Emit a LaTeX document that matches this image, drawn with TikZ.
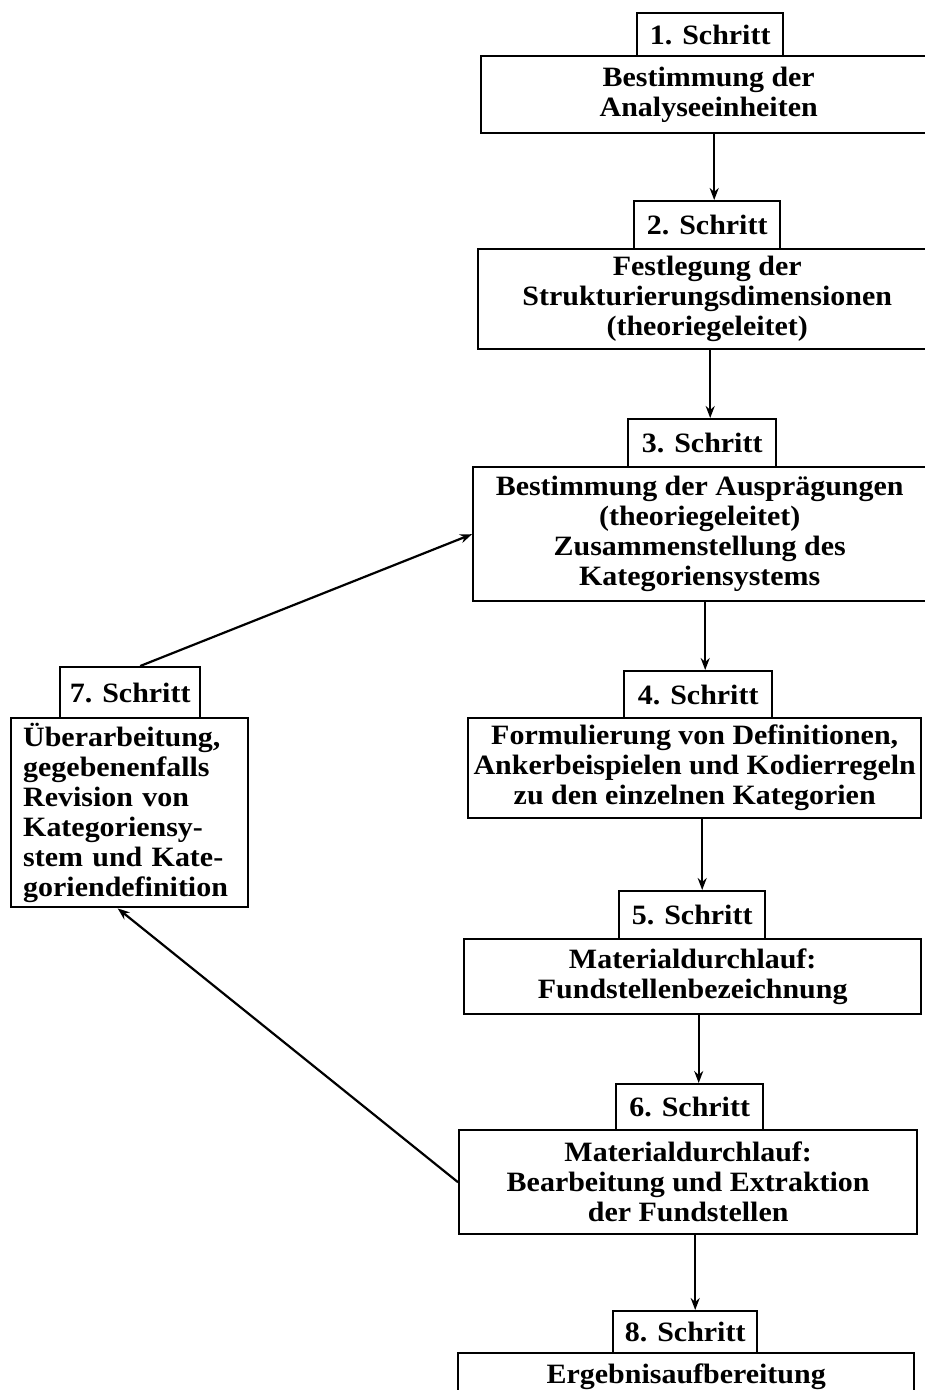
\documentclass[tikz,border=0pt]{standalone}
\usepackage{fontspec}
\setmainfont{Liberation Serif}[FakeStretch=1.07]
\usetikzlibrary{arrows.meta}
\begin{document}
\begin{tikzpicture}[x=1pt,y=-1pt,
  bx/.style={draw, line width=2.4pt, inner sep=0pt, anchor=north west, align=center,
    font=\bfseries\fontsize{28}{30}\selectfont, fill=white},
  arr/.style={line width=2.2pt, -{Stealth[length=12pt,width=9pt]}}]
\useasboundingbox (0,0) rectangle (925,1390);
\newcommand\mybox[6]{\node[bx, minimum width=#4-#2, minimum height=#5-#3] (#1) at (#2,#3) {#6};}
% step 1
\mybox{b1}{480}{55}{935}{132}{Bestimmung der\\Analyseeinheiten}
\mybox{l1}{636}{12}{782}{55}{1. Schritt}
% step 2
\mybox{b2}{477}{248}{935}{348}{Festlegung der\\Strukturierungsdimensionen\\(theoriegeleitet)}
\mybox{l2}{633}{200}{779}{248}{2. Schritt}
% step 3
\mybox{b3}{472}{466}{925}{600}{Bestimmung der Ausprägungen\\(theoriegeleitet)\\Zusammenstellung des\\Kategoriensystems}
\mybox{l3}{627}{418}{775}{466}{3. Schritt}
% step 4
\mybox{b4}{467}{717}{920}{817}{Formulierung von Definitionen,\\Ankerbeispielen und Kodierregeln\\zu den einzelnen Kategorien}
\mybox{l4}{623}{670}{771}{717}{4. Schritt}
% step 5
\mybox{b5}{463}{938}{920}{1013}{Materialdurchlauf:\\Fundstellenbezeichnung}
\mybox{l5}{618}{890}{764}{938}{5. Schritt}
% step 6
\mybox{b6}{458}{1129}{916}{1233}{Materialdurchlauf:\\Bearbeitung und Extraktion\\der Fundstellen}
\mybox{l6}{615}{1083}{762}{1129}{6. Schritt}
% step 8
\node[bx, minimum width=456, minimum height=70, anchor=north west, align=center] (b8) at (457,1352) {Ergebnisaufbereitung\\\phantom{X}};
\mybox{l8}{612}{1310}{756}{1352}{8. Schritt}
% step 7
\node[bx, align=left, text width=213pt, inner xsep=12pt, minimum height=189] (b7) at (10,717)
  {Überarbeitung,\\gegebenenfalls\\Revision von\\Kategoriensy-\\stem und Kate-\\goriendefinition};
\mybox{l7}{59}{666}{199}{717}{7. Schritt}
% connectors
\coordinate (t2) at ([xshift=7pt]l2.north);
\coordinate (t3) at ([xshift=8pt]l3.north);
\coordinate (t4) at ([xshift=7pt]l4.north);
\coordinate (t5) at ([xshift=10pt]l5.north);
\coordinate (t6) at ([xshift=9pt]l6.north);
\coordinate (t8) at ([xshift=10pt]l8.north);
\draw[arr] (b1.south -| t2) -- (t2);
\draw[arr] (b2.south -| t3) -- (t3);
\draw[arr] (b3.south -| t4) -- (t4);
\draw[arr] (b4.south -| t5) -- (t5);
\draw[arr] (b5.south -| t6) -- (t6);
\draw[arr] (b6.south -| t8) -- (t8);
\draw[arr] ([xshift=10pt]l7.north) -- (b3.west);
\draw[arr] (b6.west) -- ([xshift=-12pt]b7.south);
\end{tikzpicture}
\end{document}
